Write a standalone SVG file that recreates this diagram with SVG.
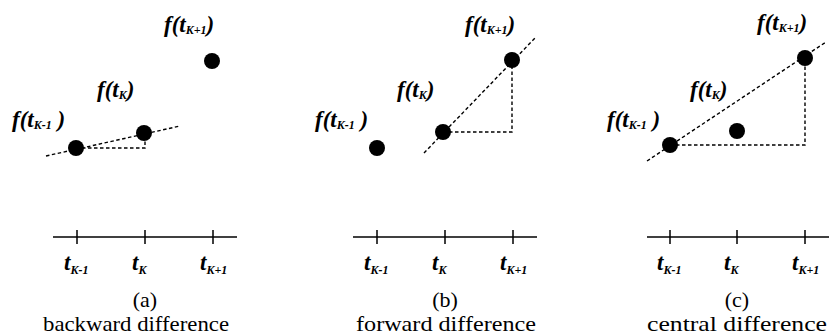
<svg xmlns="http://www.w3.org/2000/svg" width="829" height="336" viewBox="0 0 829 336">
<style>
.fl{font-family:"Liberation Serif",serif;font-style:italic;font-weight:bold;font-size:23px;fill:#000}
.sb{font-size:12px}
.tl{font-family:"Liberation Serif",serif;font-style:italic;font-weight:bold;font-size:23px;fill:#000}
.cap{font-family:"Liberation Serif",serif;font-size:22px;fill:#000;text-anchor:middle}
.ax{stroke:#000;stroke-width:1.5;fill:none}
.ds{stroke:#000;stroke-width:1.4;stroke-dasharray:3.5,2.5;fill:none}
.dot{fill:#000}
</style>
<rect width="829" height="336" fill="#fff"/>
<g id="connectors">
<line class="ds" x1="46" y1="156" x2="180" y2="126"/>
<polyline class="ds" points="82,148 145,148 145,136"/>
<line class="ds" x1="424" y1="153" x2="535" y2="38"/>
<polyline class="ds" points="443,132 512,132 512,62"/>
<line class="ds" x1="647" y1="161" x2="826" y2="42"/>
<polyline class="ds" points="670,145 805,145 805,58"/>
</g>
<g id="panel-a">
<circle class="dot" cx="76" cy="148" r="8"/>
<circle class="dot" cx="144" cy="133" r="8"/>
<circle class="dot" cx="212" cy="61" r="8"/>
<text class="fl" x="12" y="127">f(t<tspan class="sb" dy="2">K-1</tspan><tspan dy="-2"> )</tspan></text>
<text class="fl" x="97" y="97">f(t<tspan class="sb" dy="2">K</tspan><tspan dy="-2">)</tspan></text>
<text class="fl" x="164" y="32">f(t<tspan class="sb" dy="2">K+1</tspan><tspan dy="-2">)</tspan></text>
<line class="ax" x1="53" y1="237" x2="237" y2="237"/>
<path class="ax" d="M77 230V244M145 230V244M213 230V244"/>
<text class="tl" x="64" y="270">t<tspan class="sb" dy="4">K-1</tspan></text>
<text class="tl" x="132" y="270">t<tspan class="sb" dy="4">K</tspan></text>
<text class="tl" x="200" y="270">t<tspan class="sb" dy="4">K+1</tspan></text>
<text class="cap" x="145" y="307">(a)</text>
<text class="cap" x="136" y="331" textLength="186" lengthAdjust="spacingAndGlyphs">backward difference</text>
</g>
<g id="panel-b">
<circle class="dot" cx="377" cy="148" r="8"/>
<circle class="dot" cx="443" cy="132" r="8"/>
<circle class="dot" cx="512" cy="60" r="8"/>
<text class="fl" x="315" y="127">f(t<tspan class="sb" dy="2">K-1</tspan><tspan dy="-2"> )</tspan></text>
<text class="fl" x="397" y="97">f(t<tspan class="sb" dy="2">K</tspan><tspan dy="-2">)</tspan></text>
<text class="fl" x="465" y="32">f(t<tspan class="sb" dy="2">K+1</tspan><tspan dy="-2">)</tspan></text>
<line class="ax" x1="353" y1="237" x2="537" y2="237"/>
<path class="ax" d="M377 230V244M445 230V244M513 230V244"/>
<text class="tl" x="364" y="270">t<tspan class="sb" dy="4">K-1</tspan></text>
<text class="tl" x="432" y="270">t<tspan class="sb" dy="4">K</tspan></text>
<text class="tl" x="500" y="270">t<tspan class="sb" dy="4">K+1</tspan></text>
<text class="cap" x="445" y="307">(b)</text>
<text class="cap" x="446" y="331" textLength="180" lengthAdjust="spacingAndGlyphs">forward difference</text>
</g>
<g id="panel-c">
<circle class="dot" cx="670" cy="145" r="8"/>
<circle class="dot" cx="737" cy="131" r="8"/>
<circle class="dot" cx="805" cy="58" r="8"/>
<text class="fl" x="607" y="127">f(t<tspan class="sb" dy="2">K-1</tspan><tspan dy="-2"> )</tspan></text>
<text class="fl" x="690" y="97">f(t<tspan class="sb" dy="2">K</tspan><tspan dy="-2">)</tspan></text>
<text class="fl" x="757" y="30">f(t<tspan class="sb" dy="2">K+1</tspan><tspan dy="-2">)</tspan></text>
<line class="ax" x1="647" y1="237" x2="829" y2="237"/>
<path class="ax" d="M670 230V244M737 230V244M805 230V244"/>
<text class="tl" x="657" y="270">t<tspan class="sb" dy="4">K-1</tspan></text>
<text class="tl" x="724" y="270">t<tspan class="sb" dy="4">K</tspan></text>
<text class="tl" x="792" y="270">t<tspan class="sb" dy="4">K+1</tspan></text>
<text class="cap" x="737" y="307">(c)</text>
<text class="cap" x="737" y="331" textLength="180" lengthAdjust="spacingAndGlyphs">central difference</text>
</g>
</svg>
